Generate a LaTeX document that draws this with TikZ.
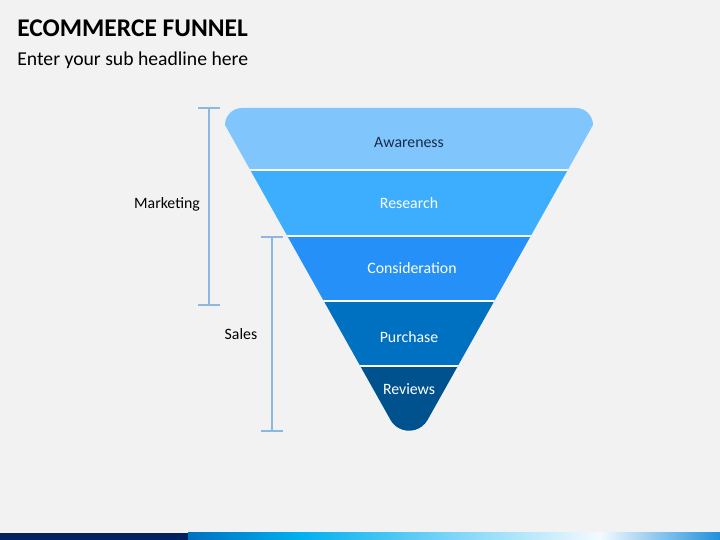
\documentclass[tikz,border=0pt]{standalone}
\usepackage{fontspec}
\setmainfont{Carlito}
\usetikzlibrary{calc}

\definecolor{pagebg}{HTML}{F2F2F2}
\definecolor{awarecol}{HTML}{80C6FC}
\definecolor{researchcol}{HTML}{3DAEFD}
\definecolor{considcol}{HTML}{2690F9}
\definecolor{purchasecol}{HTML}{0070C0}
\definecolor{reviewcol}{HTML}{00528F}
\definecolor{navytext}{HTML}{1B2A48}
\definecolor{bracketblue}{HTML}{8DB8E2}
\definecolor{barnavy}{HTML}{002060}
\definecolor{barblue}{HTML}{0070C0}
\definecolor{barcyan}{HTML}{00B0F0}
\definecolor{barlight}{HTML}{F4FAFE}
\definecolor{barend}{HTML}{2090DC}

\begin{document}
\begin{tikzpicture}[x=0.02cm, y=0.02cm,
	bandtext/.style={inner sep=0pt, font=\fontsize{9}{11}\selectfont, text=white},
	sidetext/.style={inner sep=0pt, font=\fontsize{9}{11}\selectfont, text=black},
	bracket/.style={draw=bracketblue, line width=0.6pt},
	gap/.style={draw=white, line width=1.2pt}]
	%%% Фон
	\useasboundingbox (0,0) rectangle (720,540);
	\fill[pagebg] (0,0) rectangle (720,540);
	
	%%% Заголовки
	\node[anchor=base west, inner sep=0pt, font=\bfseries\fontsize{14.5}{17}\selectfont] (title) at (17,503) {ECOMMERCE FUNNEL};
	\node[anchor=base west, inner sep=0pt, font=\fontsize{11.2}{13}\selectfont] (subtitle) at (17,474) {Enter your sub headline here};
	
	%%% Воронка
	\begin{scope}
		\clip (225,415) arc[start angle=180, end angle=90, radius=17] -- (576,432)
			arc[start angle=90, end angle=0, radius=17] -- (427.6,120.1)
			arc[start angle=-29.4, end angle=-150.6, radius=21.3] -- cycle;
		
		% Полосы
		\fill[awarecol] (200,370) rectangle (620,440);
		\fill[researchcol] (200,304) rectangle (620,370);
		\fill[considcol] (200,239) rectangle (620,304);
		\fill[purchasecol] (200,174) rectangle (620,239);
		\fill[reviewcol] (200,100) rectangle (620,174);
		
		% Промежутки
		\draw[gap] (200,370) -- (620,370);
		\draw[gap] (200,304) -- (620,304);
		\draw[gap] (200,239) -- (620,239);
		\draw[gap] (200,174) -- (620,174);
	\end{scope}
	
	% Подписи полос
	\node[bandtext, text=navytext] (awareness) at (409,398) {Awareness};
	\node[bandtext] (research) at (409,337) {Research};
	\node[bandtext] (consideration) at (412,272) {Consideration};
	\node[bandtext] (purchase) at (409,203) {Purchase};
	\node[bandtext] (reviews) at (409,151) {Reviews};
	
	%%% Скобки
	
	% Marketing
	\coordinate (mtop) at (209,432);
	\coordinate (mbot) at (209,235);
	\draw[bracket] (mtop) -- (mbot);
	\draw[bracket] ($(mtop)+(-11,0)$) -- ($(mtop)+(11,0)$);
	\draw[bracket] ($(mbot)+(-11,0)$) -- ($(mbot)+(11,0)$);
	\node[sidetext] (marketing) at (167,336) {Marketing};
	
	% Sales
	\coordinate (stop) at (272,303);
	\coordinate (sbot) at (272,109);
	\draw[bracket] (stop) -- (sbot);
	\draw[bracket] ($(stop)+(-11,0)$) -- ($(stop)+(11,0)$);
	\draw[bracket] ($(sbot)+(-11,0)$) -- ($(sbot)+(11,0)$);
	\node[sidetext] (sales) at (241,206) {Sales};
	
	%%% Нижняя полоса
	\fill[barnavy] (0,0) rectangle (188.5,7);
	\shade[left color=barblue, right color=barcyan] (188,0) rectangle (300.5,7);
	\shade[left color=barcyan, right color=barlight] (300,0) rectangle (600.5,7);
	\shade[left color=barlight, right color=barend] (600,0) rectangle (720,7);
\end{tikzpicture}
\end{document}
